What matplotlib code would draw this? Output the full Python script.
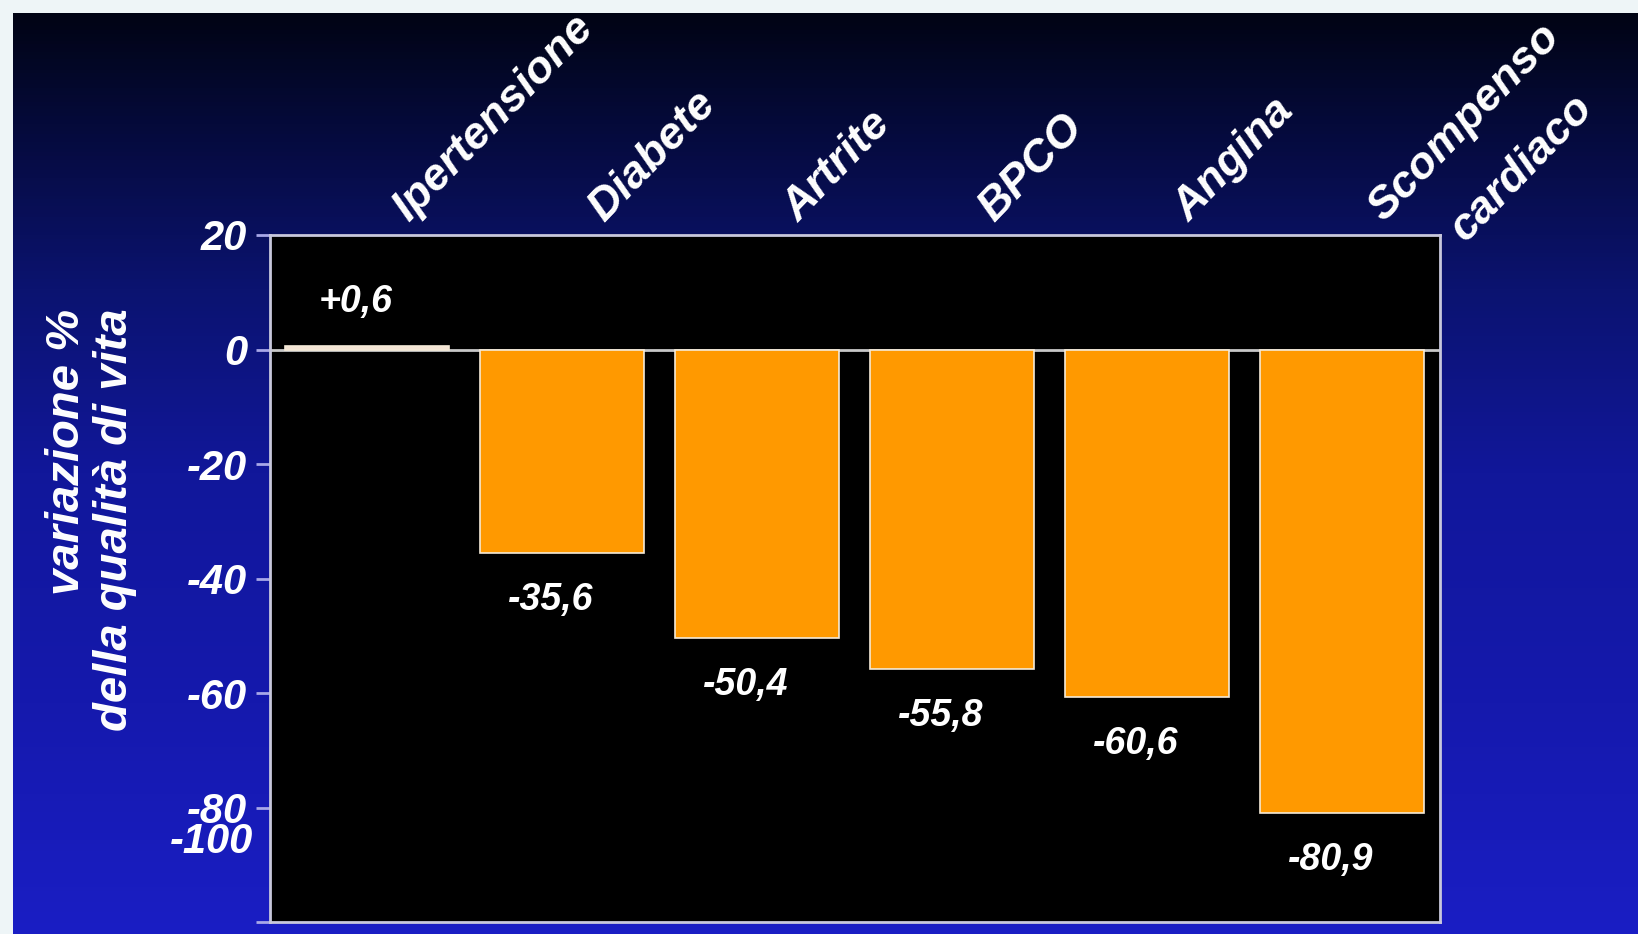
import numpy as np
import matplotlib
matplotlib.use("Agg")
import matplotlib.pyplot as plt
from matplotlib.colors import LinearSegmentedColormap

# ---- data ----
categories = ["Ipertensione", "Diabete", "Artrite", "BPCO", "Angina", "Scompenso\ncardiaco"]
values = [0.6, -35.6, -50.4, -55.8, -60.6, -80.9]
value_labels = ["+0,6", "-35,6", "-50,4", "-55,8", "-60,6", "-80,9"]
ytick_values = [20, 0, -20, -40, -60, -80, -100]
ytick_labels = ["20", "0", "-20", "-40", "-60", "-80", ""]
extra_tick_label = "-100"
ylabel = "variazione %\ndella qualità di vita"

FONT = ["Liberation Sans", "DejaVu Sans"]
plt.rcParams["font.family"] = FONT

W, H = 1638, 934
fig = plt.figure(figsize=(W / 100, H / 100), dpi=100)
fig.patch.set_facecolor("#eef5f7")

# gradient background panel
bg = fig.add_axes([12.5 / W, 0, 1 - 12.5 / W, (H - 12.5) / H])
bg.set_axis_off()
cmap = LinearSegmentedColormap.from_list(
    "bgblue",
    [(0.0, "#010414"), (0.12, "#050a3a"), (0.3, "#0b1370"), (0.5, "#11179a"),
     (0.75, "#1519ad"), (1.0, "#1a1ec4")])
grad = np.linspace(0, 1, 256).reshape(-1, 1)
bg.imshow(grad, aspect="auto", cmap=cmap, extent=[0, 1, 0, 1], origin="upper")
bg.set_xlim(0, 1)
bg.set_ylim(0, 1)

# main axes
left, right, top, bottom = 269.5, 1439.5, 235.0, 922.4
ax = fig.add_axes([left / W, (H - bottom) / H, (right - left) / W, (bottom - top) / H])
ax.set_facecolor("black")

x = np.arange(len(categories))
colors = ["#f4e4d4"] + ["#ff9900"] * 5
ax.bar(x, values, width=0.836, color=colors, edgecolor="#f5ead8", linewidth=1.2, zorder=3)
ax.axhline(0, color="#c8c8c8", lw=2, zorder=2)

ax.set_xlim(-0.5, len(categories) - 0.5)
ax.set_ylim(-100, 20)

for s in ax.spines.values():
    s.set_color("#c8c8dc")
    s.set_linewidth(2)

ax.set_xticks([])
ax.set_yticks(ytick_values)
ax.set_yticklabels(ytick_labels)
ax.tick_params(axis="y", direction="out", length=10, width=2, color="#a8a8e8",
               pad=6, labelcolor="white")
for lab in ax.get_yticklabels():
    lab.set_fontsize(30)
    lab.set_fontweight("bold")
    lab.set_fontstyle("italic")

# odd overlapping "-100" label
ax.annotate(extra_tick_label, xy=(0, -86), xycoords=("axes fraction", "data"),
            xytext=(-16, 0), textcoords="offset pixels", ha="right", va="center",
            color="white", fontsize=30, fontweight="bold", fontstyle="italic")

# value labels
for xi, v, lab in zip(x, values, value_labels):
    if v >= 0:
        yy, off = v, 44
    else:
        yy, off = v, -47
    ax.annotate(lab, xy=(xi, yy), xytext=(-11, off), textcoords="offset pixels",
                ha="center", va="center", color="white", fontsize=27,
                fontweight="bold", fontstyle="italic", zorder=5)

# category labels (rotated, above plot)
ROT = 46
for xi, cat in zip(x, categories):
    lines = cat.split("\n")
    ax.annotate(lines[0], xy=(xi, 1), xycoords=("data", "axes fraction"),
                xytext=(42, 12), textcoords="offset pixels", rotation=ROT,
                rotation_mode="anchor", ha="left", va="baseline", color="white",
                fontsize=32.5, fontweight="bold", fontstyle="italic",
                annotation_clip=False)
    if len(lines) > 1:
        ax.annotate(lines[1], xy=(xi, 1), xycoords=("data", "axes fraction"),
                    xytext=(42 + 82, 12 - 20), textcoords="offset pixels", rotation=ROT,
                    rotation_mode="anchor", ha="left", va="baseline", color="white",
                    fontsize=32.5, fontweight="bold", fontstyle="italic",
                    annotation_clip=False)

fig.text(91 / W, 1 - 520 / H, ylabel, rotation=90, ha="center", va="center",
         multialignment="right", color="white", fontsize=34, fontweight="bold",
         fontstyle="italic", linespacing=1.1)

fig.savefig("out.png", dpi=100, facecolor=fig.get_facecolor())
